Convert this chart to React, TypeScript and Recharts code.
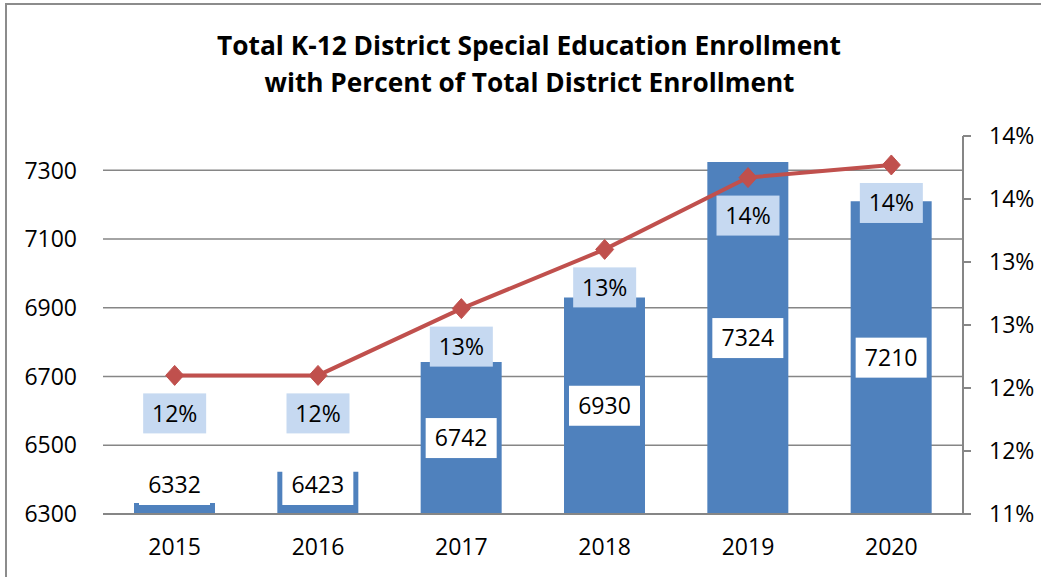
import React from 'react';
import { ComposedChart, Bar, Line, XAxis, YAxis, CartesianGrid, LabelList } from 'recharts';

const years = ['2015', '2016', '2017', '2018', '2019', '2020'];
const enrollment = [6332, 6423, 6742, 6930, 7324, 7210];
const percentOfTotal = [12.1, 12.1, 12.63, 13.1, 13.67, 13.77];
const leftTicks = [6300, 6500, 6700, 6900, 7100, 7300];
const leftDomain = [6300, 7400];
const rightTicks = [11, 11.5, 12, 12.5, 13, 13.5, 14];
const titleLines = [
  'Total K-12 District Special Education Enrollment',
  'with Percent of Total District Enrollment',
];

const data = years.map((y, i) => ({ year: y, enrollment: enrollment[i], pct: percentOfTotal[i] }));

const FONT = '"Open Sans", "Liberation Sans", sans-serif';
const TITLE_FONT = '"Open Sans", sans-serif';
const GRID = '#868686';
const FS = 23;

const BarValueLabel = (props: any) => {
  const vb = props.viewBox || props;
  const x = vb.x, w = vb.width;
  const top = Math.min(vb.y, vb.y + vb.height);
  const h = Math.abs(vb.height);
  const base = top + h;
  const boxW = 71, boxH = 40;
  let cy = top + h / 2;
  cy = Math.min(cy, base - 9 - boxH / 2);
  const cx = x + w / 2;
  return (
    <g>
      <rect x={cx - boxW / 2} y={cy - boxH / 2} width={boxW} height={boxH} fill="#ffffff" />
      <text x={cx} y={cy + FS * 0.36} textAnchor="middle" fontFamily={FONT} fontSize={FS} fill="#000">
        {props.value}
      </text>
    </g>
  );
};

const PctLabel = (props: any) => {
  const { x, y, value } = props;
  const boxW = 63, boxH = 40;
  const cy = y + 38;
  return (
    <g>
      <rect x={x - boxW / 2} y={cy - boxH / 2} width={boxW} height={boxH} fill="#c6d9f1" />
      <text x={x} y={cy + FS * 0.36} textAnchor="middle" fontFamily={FONT} fontSize={FS} fill="#000">
        {Math.round(value) + '%'}
      </text>
    </g>
  );
};

const Diamond = (props: any) => {
  const { cx, cy, index } = props;
  if (cx == null || cy == null) return <g key={'d' + index} />;
  return (
    <path
      key={'d' + index}
      d={`M${cx},${cy - 10} L${cx + 9},${cy} L${cx},${cy + 10} L${cx - 9},${cy} Z`}
      fill="#c0504d"
      stroke="#c0504d"
    />
  );
};

const gridGenerator = (p: any) => {
  const scale = p && p.yAxis && p.yAxis.scale;
  return leftTicks.map((t) => {
    if (typeof scale === 'function') return scale(t);
    if (scale && typeof scale.map === 'function') {
      const v = scale.map(t);
      if (typeof v === 'number') return v;
    }
    if (scale && typeof scale.scale === 'function') return scale.scale(t);
    const off = (p && p.offset) || { top: 136, height: 378 };
    return off.top + (off.height * (leftDomain[1] - t)) / (leftDomain[1] - leftDomain[0]);
  });
};

export default function App() {
  return (
    <div style={{ position: 'absolute', left: 0, top: 0, width: 1041, height: 577, overflow: 'hidden', background: '#fff' }}>
      <ComposedChart
        width={1041}
        height={577}
        data={data}
        margin={{ top: 136, right: 0, bottom: 0, left: 0 }}
      >
        <CartesianGrid
          yAxisId="left"
          vertical={false}
          stroke={GRID}
          strokeWidth={1.5}
          horizontalCoordinatesGenerator={gridGenerator}
        />
        <XAxis
          dataKey="year"
          axisLine={{ stroke: GRID, strokeWidth: 2 }}
          tickLine={false}
          tickSize={0}
          tickMargin={25}
          height={63}
          tick={{ fill: '#000', fontSize: FS, fontFamily: FONT }}
        />
        <YAxis
          yAxisId="left"
          type="number"
          domain={leftDomain}
          ticks={leftTicks}
          axisLine={false}
          tickLine={false}
          tickSize={0}
          tickMargin={26}
          width={103}
          tick={{ fill: '#000', fontSize: FS, fontFamily: FONT }}
        />
        <YAxis
          yAxisId="right"
          orientation="right"
          type="number"
          domain={[11, 14]}
          ticks={rightTicks}
          axisLine={{ stroke: GRID, strokeWidth: 2 }}
          tickLine={{ stroke: GRID, strokeWidth: 2 }}
          tickSize={8}
          tickMargin={18}
          width={78}
          tickFormatter={(v: number) => Math.round(v) + '%'}
          tick={{ fill: '#000', fontSize: FS, fontFamily: FONT }}
        />
        <Bar yAxisId="left" dataKey="enrollment" fill="#4f81bd" barSize={81} isAnimationActive={false}>
          <LabelList dataKey="enrollment" content={BarValueLabel} />
        </Bar>
        <Line
          yAxisId="right"
          dataKey="pct"
          stroke="#c0504d"
          strokeWidth={4}
          dot={Diamond}
          activeDot={false}
          isAnimationActive={false}
        >
          <LabelList dataKey="pct" content={PctLabel} />
        </Line>
      </ComposedChart>
      <svg width={1041} height={577} style={{ position: 'absolute', left: 0, top: 0, pointerEvents: 'none' }}>
        <line x1={6} y1={3} x2={6} y2={577} stroke="#8c8c8c" strokeWidth={2} />
        <line x1={5} y1={4} x2={1041} y2={4} stroke="#8c8c8c" strokeWidth={2} />
        <text x={529} y={55} textAnchor="middle" fontFamily={TITLE_FONT} fontWeight="bold" fontSize={27} fill="#000" textLength={624} lengthAdjust="spacingAndGlyphs">
          {titleLines[0]}
        </text>
        <text x={529.5} y={92} textAnchor="middle" fontFamily={TITLE_FONT} fontWeight="bold" fontSize={27} fill="#000" textLength={530} lengthAdjust="spacingAndGlyphs">
          {titleLines[1]}
        </text>
      </svg>
    </div>
  );
}
